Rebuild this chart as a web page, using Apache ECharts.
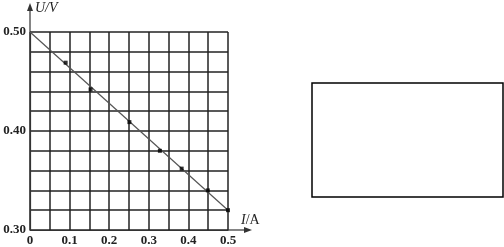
<!DOCTYPE html>
<html>
<head>
<meta charset="utf-8">
<script src="https://cdn.jsdelivr.net/npm/echarts@6/dist/echarts.min.js"></script>
<style>html,body{margin:0;padding:0;background:#fff;}#c{width:504px;height:247px;}</style>
</head>
<body>
<div id="c"></div>
<script>
// measured points (I in A, U in V)
const currentI = [0.09, 0.153, 0.251, 0.328, 0.383, 0.449, 0.50];
const voltageU = [0.469, 0.442, 0.409, 0.380, 0.362, 0.340, 0.320];
// fitted line end points
const fitI = [0, 0.5];
const fitU = [0.50, 0.32];
const xTickLabels = ['0', '0.1', '0.2', '0.3', '0.4', '0.5'];
const yTickLabels = ['0.30', '0.40', '0.50'];

const chart = echarts.init(document.getElementById('c'), null, {renderer: 'canvas'});
const font = 'Liberation Serif';
const option = {
  animation: false,
  backgroundColor: '#fff',
  grid: {left: 30, top: 32, width: 198, height: 199},
  xAxis: {
    type: 'value', min: 0, max: 0.5, interval: 0.05,
    axisLine: {show: true, lineStyle: {color: '#333', width: 1.2}},
    axisTick: {show: false},
    splitLine: {show: true, lineStyle: {color: '#222', width: 1.5}},
    axisLabel: {
      color: '#222', fontFamily: font, fontSize: 13, fontWeight: 'bold', margin: 4,
      formatter: function (v) {
        const s = v === 0 ? '0' : (Math.round(v * 100) / 100).toString();
        return xTickLabels.indexOf(s) >= 0 ? s : '';
      }
    }
  },
  yAxis: {
    type: 'value', min: 0.30, max: 0.50, interval: 0.02,
    axisLine: {show: true, lineStyle: {color: '#333', width: 1.2}},
    axisTick: {show: false},
    splitLine: {show: true, lineStyle: {color: '#222', width: 1.5}},
    axisLabel: {
      color: '#222', fontFamily: font, fontSize: 13, fontWeight: 'bold', margin: 4,
      formatter: function (v) {
        const s = v.toFixed(2);
        return yTickLabels.indexOf(s) >= 0 ? s : '';
      }
    }
  },
  series: [
    {
      type: 'line', data: fitI.map((x, i) => [x, fitU[i]]),
      symbol: 'none', lineStyle: {color: '#555', width: 1.2}, z: 3
    },
    {
      type: 'scatter', data: currentI.map((x, i) => [x, voltageU[i]]),
      symbol: 'rect', symbolSize: 4, itemStyle: {color: '#000'}, z: 4
    }
  ]
};
chart.setOption(option);

// axis extensions with arrows and axis names, positioned from the axes
const pO = chart.convertToPixel({gridIndex: 0}, [0, 0.30]);
const pTop = chart.convertToPixel({gridIndex: 0}, [0, 0.50]);
const pRight = chart.convertToPixel({gridIndex: 0}, [0.5, 0.30]);
chart.setOption({
  graphic: [
    {type: 'line', shape: {x1: pO[0], y1: pTop[1], x2: pO[0], y2: 6}, style: {stroke: '#333', lineWidth: 1.2}},
    {type: 'polygon', shape: {points: [[pO[0], 3], [pO[0] - 3, 11], [pO[0] + 3, 11]]}, style: {fill: '#333'}},
    {type: 'line', shape: {x1: pRight[0], y1: pO[1], x2: 249, y2: pO[1]}, style: {stroke: '#333', lineWidth: 1.2}},
    {type: 'polygon', shape: {points: [[252, pO[1]], [244, pO[1] - 3], [244, pO[1] + 3]]}, style: {fill: '#333'}},
    {type: 'text', x: 35, y: 8, style: {text: '{i|U}/V', verticalAlign: 'middle', rich: {i: {fontStyle: 'italic', fontFamily: font, fontSize: 14, fill: '#222'}}, fontFamily: font, fontSize: 14, fontStyle: 'italic', fill: '#222'}},
    {type: 'text', x: 241, y: 220, style: {text: '{i|I}/A', verticalAlign: 'middle', rich: {i: {fontStyle: 'italic', fontFamily: font, fontSize: 14, fill: '#222'}}, fontFamily: font, fontSize: 14, fill: '#222'}},
    {type: 'rect', shape: {x: 312, y: 83, width: 191, height: 114}, style: {fill: 'none', stroke: '#000', lineWidth: 1.5}}
  ]
});
</script>
</body>
</html>
